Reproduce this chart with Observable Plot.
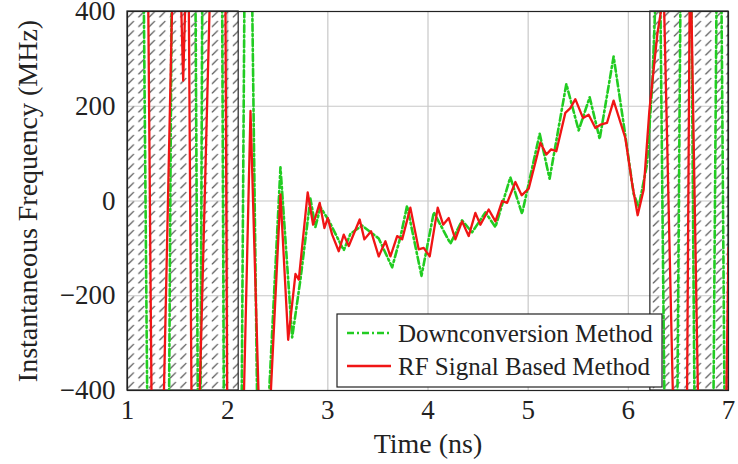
<!DOCTYPE html>
<html><head><meta charset="utf-8">
<script src="https://cdn.jsdelivr.net/npm/d3@7"></script>
<script src="https://cdn.jsdelivr.net/npm/@observablehq/plot@0.6"></script>
<style>body{margin:0;background:#fff} #chart{width:738px;height:464px} #chart svg{overflow:visible}</style>
</head><body>
<svg width="0" height="0" style="position:absolute"><defs><pattern id="hatch" patternUnits="userSpaceOnUse" width="10.5" height="9.5"><line x1="2.2" y1="7.6" x2="7.6" y2="2.2" stroke="#4a4a4a" stroke-width="1.1" stroke-linecap="round"/></pattern></defs></svg>
<div id="chart"></div>
<script>
// RF signal based method (red)
const rfTime = [1.00,1.207,1.240,1.362,1.446,1.535,1.556,1.577,1.612,1.639,1.719,1.821,1.978,1.995,2.161,2.228,2.310,2.427,2.527,2.604,2.677,2.710,2.799,2.853,2.919,2.966,2.999,3.043,3.109,3.159,3.209,3.318,3.365,3.432,3.508,3.575,3.625,3.692,3.742,3.824,3.874,3.907,3.957,4.017,4.097,4.151,4.207,4.273,4.340,4.406,4.473,4.523,4.606,4.673,4.740,4.790,4.872,4.935,5.005,5.122,5.182,5.229,5.281,5.371,5.421,5.471,5.548,5.604,5.671,5.721,5.787,5.853,5.970,6.037,6.093,6.153,6.210,6.290,6.340,6.356,6.446,6.586,6.612,6.629,6.696,6.978,7.000];
const rfFreq = [420,420,-420,-420,420,420,254,420,420,-420,-420,420,420,-420,-420,190,-420,-420,14,-293,-154,-166,18,-50,-4,-57,-36,-71,-106,-71,-95,-39,-81,-64,-117,-85,-117,-74,-81,-14,-67,-102,-99,-117,-14,-50,-36,-81,-43,-74,-25,-50,-18,-43,0,-4,40,12,26,123,98,109,105,186,196,215,175,182,154,161,165,212,133,38,-30,24,191,353,420,420,-420,-420,420,420,-420,-420,-99];
// Downconversion method (green)
const dcTime = [1.00,1.163,1.197,1.415,1.440,1.679,1.702,1.729,1.746,1.945,1.962,2.140,2.167,2.245,2.294,2.410,2.527,2.644,2.727,2.826,2.876,2.926,3.009,3.159,3.226,3.342,3.508,3.642,3.725,3.791,3.935,4.058,4.224,4.340,4.440,4.573,4.673,4.822,4.939,5.115,5.214,5.381,5.504,5.614,5.714,5.853,5.953,6.053,6.103,6.187,6.240,6.270,6.320,6.360,6.490,6.520,6.630,6.660,6.850,6.880,6.930,6.960,7.000];
const dcFreq = [420,420,-420,-420,420,420,-420,-420,420,420,-420,-420,420,420,-420,-420,71,-288,-165,5,-55,-13,-41,-104,-69,-52,-79,-140,-76,-10,-158,-24,-90,-41,-66,-24,-55,50,-27,142,47,247,149,219,131,305,163,15,-13,78,250,420,420,-420,-420,420,420,-420,-420,420,420,-420,-420];
// hatched (invalid) time regions
const hatchStart = [1.0, 6.22];
const hatchEnd = [2.11, 7.0];
const xTicks = [1,2,3,4,5,6,7];
const yTicks = [-400,-200,0,200,400];
const seriesNames = ["Downconversion Method", "RF Signal Based Method"];

const rf = rfTime.map((t,i)=>({t, f: rfFreq[i]}));
const dc = dcTime.map((t,i)=>({t, f: dcFreq[i]}));
const hatch = hatchStart.map((s,i)=>({s, e: hatchEnd[i]}));

const GREEN = "#22cc22", RED = "#f01515";
const FONT = "'Liberation Serif', 'Times New Roman', serif";

const chart = Plot.plot({
  width: 738, height: 464,
  marginLeft: 127, marginRight: 10, marginTop: 11, marginBottom: 74,
  style: {fontFamily: FONT, background: "#fff", color: "#222", overflow: "visible"},
  x: {domain: [1,7]},
  y: {domain: [-400,400]},
  marks: [
    Plot.gridX(xTicks.slice(1,-1), {stroke: "#c8c8c8", strokeOpacity: 1, strokeWidth: 1.2}),
    Plot.gridY(yTicks.slice(1,-1), {stroke: "#c8c8c8", strokeOpacity: 1, strokeWidth: 1.2}),
    Plot.rect(hatch, {x1: "s", x2: "e", y1: -400, y2: 400, fill: "url(#hatch)", stroke: "#222", strokeWidth: 1.2}),
    Plot.line(dc, {x: "t", y: "f", stroke: GREEN, strokeWidth: 2.6, strokeDasharray: "7 3 2 3", clip: true}),
    Plot.line(rf, {x: "t", y: "f", stroke: RED, strokeWidth: 2.3, clip: true}),
    Plot.frame({stroke: "#222", strokeWidth: 1.2}),
    Plot.axisX(xTicks, {tickSize: 0, tickPadding: 9, fontSize: 27, label: null, tickFormat: d => String(d)}),
    Plot.axisY(yTicks, {tickSize: 0, tickPadding: 12, fontSize: 27, label: null}),
    Plot.text(["Time (ns)"], {text: d => d, frameAnchor: "bottom", dy: 62, fontSize: 28, fill: "#222"}),
    Plot.text(["Instantaneous Frequency (MHz)"], {text: d => d, frameAnchor: "left", textAnchor: "middle", dx: -99, rotate: -90, fontSize: 28, fill: "#222"})
  ]
});

// legend box
const svg = d3.select(chart);
const lg = svg.append("g").attr("font-family", FONT).attr("font-size", 25).attr("fill", "#222").attr("text-anchor", "start");
lg.append("rect").attr("x", 337).attr("y", 314).attr("width", 325).attr("height", 73)
  .attr("fill", "#fff").attr("stroke", "#222").attr("stroke-width", 1.2);
const rows = [
  {name: seriesNames[0], color: GREEN, dash: "7 3 2 3", w: 2.6, y: 333},
  {name: seriesNames[1], color: RED, dash: null, w: 2.3, y: 366}
];
rows.forEach(r => {
  lg.append("line").attr("x1", 347).attr("x2", 391).attr("y1", r.y).attr("y2", r.y)
    .attr("stroke", r.color).attr("stroke-width", r.w).attr("stroke-dasharray", r.dash);
  lg.append("text").attr("x", 398).attr("y", r.y + 8.5).attr("text-anchor", "start").text(r.name);
});

document.getElementById("chart").appendChild(chart);
</script>
</body></html>
